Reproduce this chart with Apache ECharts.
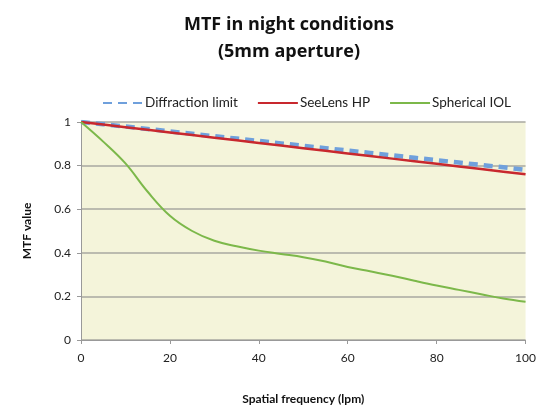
<!DOCTYPE html>
<html><head><meta charset="utf-8">
<script src="https://cdn.jsdelivr.net/npm/echarts@6/dist/echarts.min.js"></script>
<style>html,body{margin:0;padding:0;background:#fff}#c{width:539px;height:410px}</style>
</head><body><div id="c"></div>
<script>
const freq = [0,5,10,15,20,25,30,35,40,45,50,55,60,65,70,75,80,85,90,95,100];
const diffraction = [1,0.99,0.979,0.968,0.957,0.946,0.935,0.924,0.913,0.902,0.891,0.88,0.869,0.858,0.847,0.836,0.825,0.814,0.803,0.792,0.781];
const seelens = [1,0.988,0.976,0.964,0.952,0.94,0.928,0.916,0.904,0.892,0.88,0.868,0.856,0.844,0.832,0.82,0.808,0.796,0.784,0.772,0.76];
const spherical = [1,0.91,0.81,0.68,0.57,0.5,0.455,0.43,0.41,0.395,0.38,0.36,0.335,0.315,0.295,0.272,0.25,0.23,0.21,0.19,0.175];
const pair = a => freq.map((f,i)=>[f,a[i]]);
const font = 'Lato, "Open Sans", sans-serif';
const chart = echarts.init(document.getElementById('c'));
chart.setOption({
  animation:false,
  title:{text:'MTF in night conditions\n(5mm aperture)',left:284,textAlign:'center',top:6,
    textStyle:{fontFamily:'"Open Sans", sans-serif',fontSize:18,fontWeight:'bold',color:'#111',lineHeight:27}},
  legend:{top:91,left:97,itemGap:19,itemWidth:40,itemHeight:10,
    itemStyle:{opacity:0},
    textStyle:{fontFamily:font,fontSize:13.5,color:'#222',padding:[0,0,0,-3]},
    data:['Diffraction limit','SeeLens HP','Spherical IOL']},
  grid:{left:81,right:8,top:122,bottom:70,backgroundColor:'#f4f4da',show:true,borderWidth:0},
  xAxis:{type:'value',min:0,max:100,interval:20,name:'Spatial frequency (lpm)',nameLocation:'middle',nameGap:53,
    nameTextStyle:{fontFamily:font,fontSize:12,fontWeight:'bold',color:'#111'},
    axisLine:{lineStyle:{color:'#999'}},axisTick:{show:true,length:4,lineStyle:{color:'#999'}},
    splitLine:{show:false},axisLabel:{fontFamily:font,fontSize:12,color:'#222',margin:12}},
  yAxis:{type:'value',min:0,max:1,interval:0.2,name:'MTF value',nameLocation:'middle',nameGap:48,
    nameTextStyle:{fontFamily:font,fontSize:12,fontWeight:'bold',color:'#111'},
    axisLine:{show:true,lineStyle:{color:'#999'}},axisTick:{show:true,length:4,lineStyle:{color:'#999'}},
    splitLine:{lineStyle:{color:'#a8a8a0',width:1.5}},axisLabel:{fontFamily:font,fontSize:12,color:'#222',margin:10}},
  series:[
    {name:'Diffraction limit',type:'line',data:pair(diffraction),symbol:'none',color:'#6fa0dc',
      lineStyle:{width:4.5,type:[9,6],color:'#6fa0dc'}},
    {name:'SeeLens HP',type:'line',data:pair(seelens),symbol:'none',color:'#c8282e',
      lineStyle:{width:2.5,color:'#c8282e'}},
    {name:'Spherical IOL',type:'line',data:pair(spherical),symbol:'none',smooth:0.4,color:'#7cb84a',
      lineStyle:{width:2,color:'#7cb84a'}}
  ]
});
</script></body></html>
